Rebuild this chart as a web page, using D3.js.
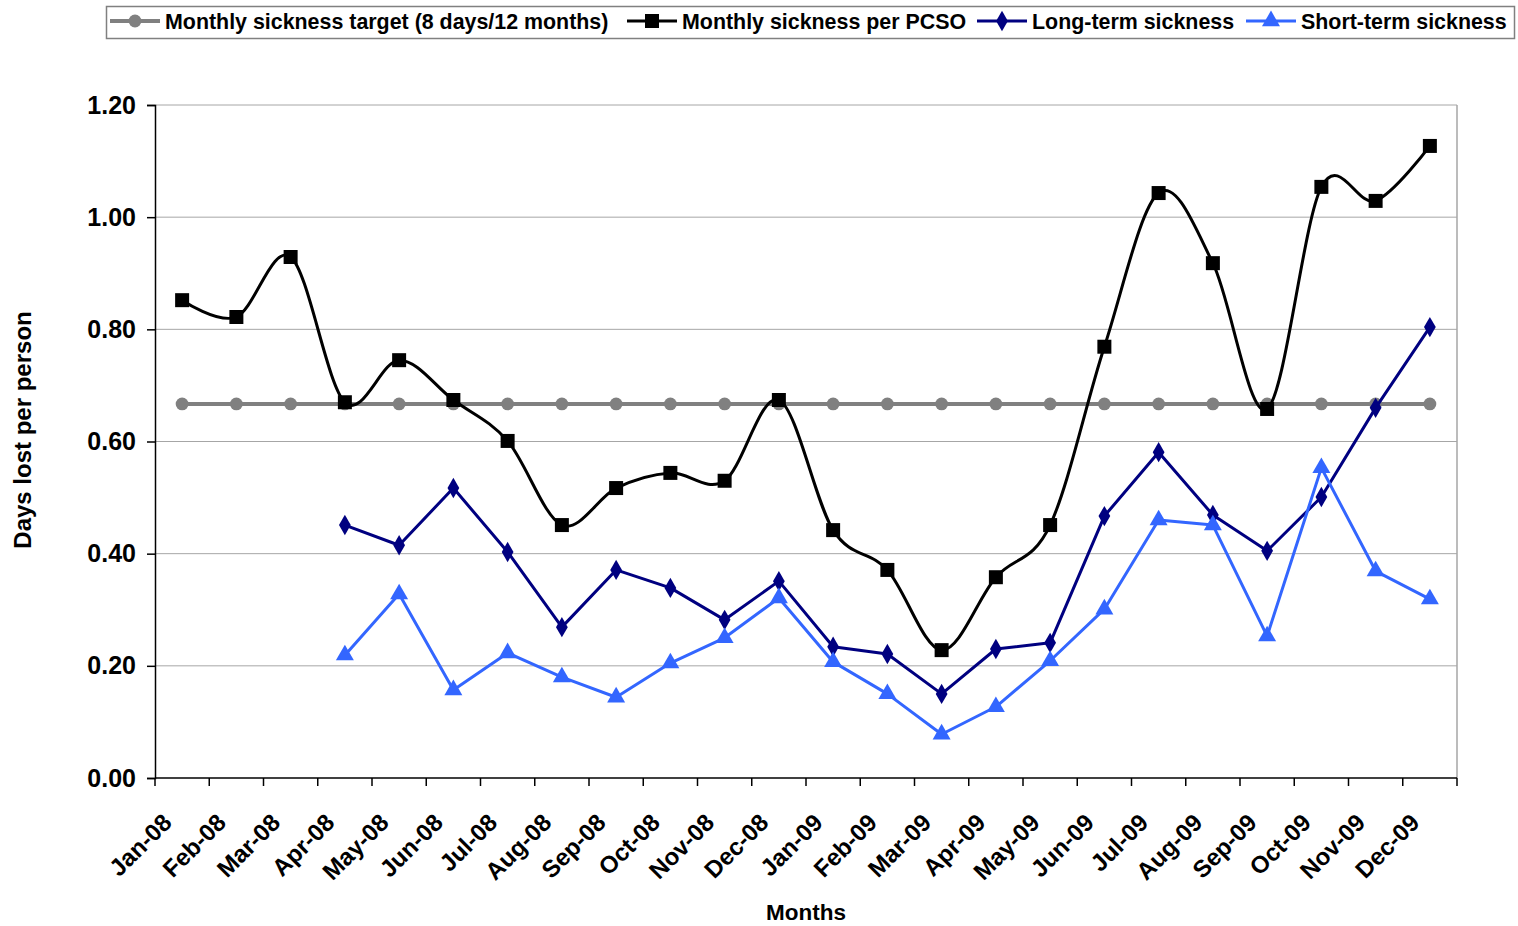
<!DOCTYPE html>
<html>
<head>
<meta charset="utf-8">
<script src="https://cdn.jsdelivr.net/npm/d3@7"></script>
<style>
  html, body { margin: 0; padding: 0; background: #fff; }
  svg { display: block; font-family: "Liberation Sans", Arial, sans-serif; font-weight: bold; }
</style>
</head>
<body>
<svg id="chart" width="1518" height="926"></svg>
<script>
// Monthly sickness data, Jan 2008 – Dec 2009 (days lost per person)
const months = ["Jan-08","Feb-08","Mar-08","Apr-08","May-08","Jun-08","Jul-08","Aug-08","Sep-08","Oct-08","Nov-08","Dec-08",
                "Jan-09","Feb-09","Mar-09","Apr-09","May-09","Jun-09","Jul-09","Aug-09","Sep-09","Oct-09","Nov-09","Dec-09"];
const target = [0.667,0.667,0.667,0.667,0.667,0.667,0.667,0.667,0.667,0.667,0.667,0.667,
                0.667,0.667,0.667,0.667,0.667,0.667,0.667,0.667,0.667,0.667,0.667,0.667];
const perPCSO = [0.852,0.822,0.929,0.670,0.745,0.674,0.601,0.451,0.517,0.544,0.530,0.674,
                 0.442,0.371,0.228,0.358,0.451,0.769,1.043,0.918,0.658,1.054,1.029,1.127];
const longTerm = [null,null,null,0.451,0.415,0.517,0.403,0.269,0.371,0.339,0.282,0.351,
                  0.234,0.221,0.150,0.230,0.241,0.467,0.581,0.469,0.405,0.501,0.660,0.804];
const shortTerm = [null,null,null,0.219,0.328,0.157,0.223,0.180,0.144,0.205,0.250,0.321,
                   0.207,0.150,0.078,0.127,0.209,0.301,0.460,0.451,0.253,0.553,0.369,0.319];
const yTicks = [0, 0.2, 0.4, 0.6, 0.8, 1.0, 1.2];

const svg = d3.select("#chart");
const plot = { left: 155, right: 1457, top: 105, bottom: 778 };

const x = d3.scaleBand().domain(months).range([plot.left, plot.right]).paddingInner(0).paddingOuter(0);
const cx = m => x(m) + x.bandwidth() / 2;
const y = d3.scaleLinear().domain([0, 1.2]).range([plot.bottom, plot.top]);

// Gridlines
svg.append("g").selectAll("line").data(yTicks.slice(1)).join("line")
  .attr("x1", plot.left).attr("x2", plot.right)
  .attr("y1", d => y(d)).attr("y2", d => y(d))
  .attr("stroke", "#a6a6a6").attr("stroke-width", 1);

// Plot border (right side)
svg.append("line").attr("x1", plot.right).attr("x2", plot.right)
  .attr("y1", plot.top).attr("y2", plot.bottom).attr("stroke", "#a6a6a6").attr("stroke-width", 1.5);

// Y axis
const yAxis = svg.append("g").attr("transform", `translate(${plot.left},0)`)
  .call(d3.axisLeft(y).tickValues(yTicks).tickFormat(d3.format(".2f")).tickSize(8).tickPadding(11));
yAxis.select(".domain").attr("stroke", "#000").attr("stroke-width", 1.5);
yAxis.selectAll(".tick line").attr("stroke", "#000").attr("stroke-width", 1.5);
yAxis.selectAll("text").attr("font-size", 25).attr("font-weight", "bold").attr("fill", "#000")
  .attr("font-family", "Liberation Sans, Arial, sans-serif");

// X axis: ticks at category boundaries
const xg = svg.append("g");
xg.append("line").attr("x1", plot.left).attr("x2", plot.right)
  .attr("y1", plot.bottom).attr("y2", plot.bottom).attr("stroke", "#000").attr("stroke-width", 1.5);
const boundaries = months.map(m => x(m)).concat([plot.right]);
xg.selectAll("line.tk").data(boundaries).join("line").attr("class", "tk")
  .attr("x1", d => d).attr("x2", d => d).attr("y1", plot.bottom).attr("y2", plot.bottom + 8)
  .attr("stroke", "#000").attr("stroke-width", 1.5);
xg.selectAll("text").data(months).join("text")
  .attr("transform", d => `translate(${cx(d) - 9},${plot.bottom + 46}) rotate(-45)`)
  .attr("text-anchor", "end")
  .attr("font-size", 24).attr("fill", "#000")
  .text(d => d);

// Axis titles
svg.append("text").attr("x", 806).attr("y", 920)
  .attr("text-anchor", "middle").attr("font-size", 22.5).text("Months");
svg.append("text").attr("transform", `translate(31,430) rotate(-90)`)
  .attr("text-anchor", "middle").attr("font-size", 24).text("Days lost per person");

// Series
const series = [
  { name: "Monthly sickness target (8 days/12 months)", values: target, color: "#808080", marker: "circle", curve: d3.curveLinear, width: 4 },
  { name: "Monthly sickness per PCSO", values: perPCSO, color: "#000000", marker: "square", curve: d3.curveCardinal, width: 3 },
  { name: "Long-term sickness", values: longTerm, color: "#000080", marker: "diamond", curve: d3.curveLinear, width: 3 },
  { name: "Short-term sickness", values: shortTerm, color: "#3366ff", marker: "triangle", curve: d3.curveLinear, width: 3 }
];

const symbolFor = {
  circle: d3.symbol().type(d3.symbolCircle).size(130),
  square: d3.symbol().type(d3.symbolSquare).size(196),
  diamond: d3.symbol().type(d3.symbolDiamond).size(120),
  triangle: d3.symbol().type(d3.symbolTriangle).size(140)
};

series.forEach(s => {
  const pts = months.map((m, i) => ({ m, v: s.values[i] })).filter(p => p.v !== null);
  const line = d3.line().x(p => cx(p.m)).y(p => y(p.v)).curve(s.curve);
  svg.append("path").datum(pts).attr("d", line)
    .attr("fill", "none").attr("stroke", s.color).attr("stroke-width", s.width)
    .attr("stroke-linejoin", "round");
  svg.append("g").selectAll("path").data(pts).join("path")
    .attr("d", symbolFor[s.marker])
    .attr("transform", p => `translate(${cx(p.m)},${y(p.v)})`)
    .attr("fill", s.color);
});

// Legend
const legend = svg.append("g");
legend.append("rect").attr("x", 106.5).attr("y", 6.5).attr("width", 1408).attr("height", 32)
  .attr("fill", "#fff").attr("stroke", "#808080").attr("stroke-width", 1.5);
const legendX = [110, 627, 977, 1246];
series.forEach((s, i) => {
  const g = legend.append("g").attr("transform", `translate(${legendX[i]},21)`);
  g.append("line").attr("x1", 0).attr("x2", 50).attr("y1", 0).attr("y2", 0)
    .attr("stroke", s.color).attr("stroke-width", s.width);
  g.append("path").attr("d", symbolFor[s.marker]).attr("transform", "translate(25,0)").attr("fill", s.color);
  g.append("text").attr("x", 55).attr("y", 0).attr("dy", "0.36em")
    .attr("font-size", 21.4).attr("fill", "#000").text(s.name);
});
</script>
</body>
</html>
